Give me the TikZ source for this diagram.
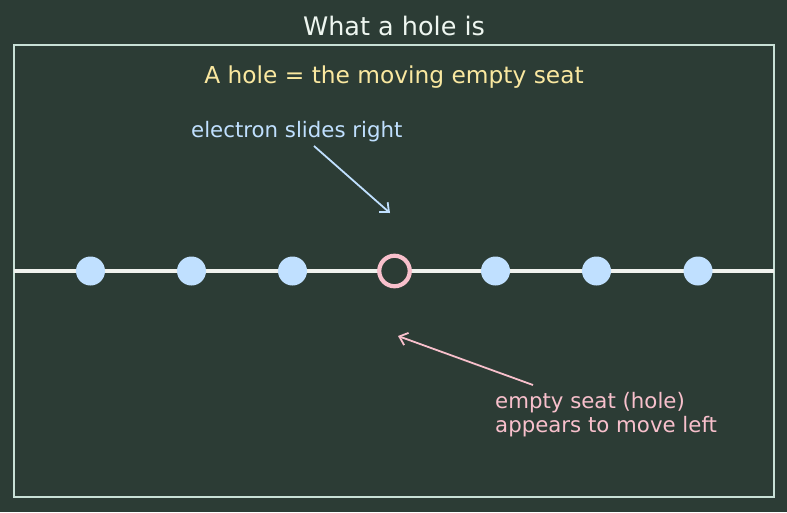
\documentclass[tikz,border=0pt]{standalone}
\usepackage{fontspec}
\setmainfont{DejaVu Sans}
\usetikzlibrary{arrows.meta}

\begin{document}
\begin{tikzpicture}[x=1pt,y=-1pt]
\definecolor{background}{RGB}{44,60,53}
\definecolor{framecolor}{RGB}{200,224,214}
\definecolor{titlecolor}{RGB}{238,246,240}
\definecolor{subcolor}{RGB}{250,232,160}
\definecolor{electroncolor}{RGB}{192,224,255}
\definecolor{holecolor}{RGB}{248,192,204}
\definecolor{wirecolor}{RGB}{240,242,238}
\tikzset{
  electron/.style={circle,fill=electroncolor,draw=none,minimum size=29pt,inner sep=0pt},
  hole/.style={circle,fill=background,draw=holecolor,line width=4.2pt,minimum size=30.5pt,inner sep=0pt},
  pointer/.style={line width=1.8pt,-{Straight Barb[length=7.5pt,width=13pt,line width=1.8pt]}},
  labeltext/.style={font=\fontsize{21.3}{24}\selectfont,inner sep=0pt}
}
\fill [background] (0,0) rectangle (787,512);
\useasboundingbox (0,0) rectangle (787,512);
\node [anchor=base,text=titlecolor,font=\fontsize{25.5}{30}\selectfont,inner sep=0pt] (title) at (394,35) {What a hole is};
\draw [framecolor,line width=2pt] (14,45) rectangle (774,497);
\node [anchor=base,text=subcolor,font=\fontsize{23.3}{28}\selectfont,inner sep=0pt] (subtitle) at (394,83) {A hole = the moving empty seat};
% the row of seats
\coordinate (wireleft) at (14,271);
\coordinate (wireright) at (774,271);
\draw [wirecolor,line width=3.6pt] (wireleft) -- (wireright);
\node [electron] (e1) at (90.5,271) {};
\node [electron] (e2) at (191.5,271) {};
\node [electron] (e3) at (292.5,271) {};
\node [hole] (h) at (394.5,271) {};
\node [electron] (e5) at (495.5,271) {};
\node [electron] (e6) at (596.5,271) {};
\node [electron] (e7) at (698,271) {};
% labels and arrows
\node [labeltext,anchor=base west,text=electroncolor] (slides) at (191,137) {electron slides right};
\coordinate (slidestart) at (314,146);
\coordinate (slideend) at (390,213);
\draw [pointer,electroncolor] (slidestart) -- (slideend);
\node [labeltext,anchor=base west,text=holecolor,align=left] (seat) at (495,432) {empty seat (hole)\\appears to move left};
\coordinate (seatstart) at (533,385);
\coordinate (seatend) at (398,336);
\draw [pointer,holecolor] (seatstart) -- (seatend);
\end{tikzpicture}
\end{document}
